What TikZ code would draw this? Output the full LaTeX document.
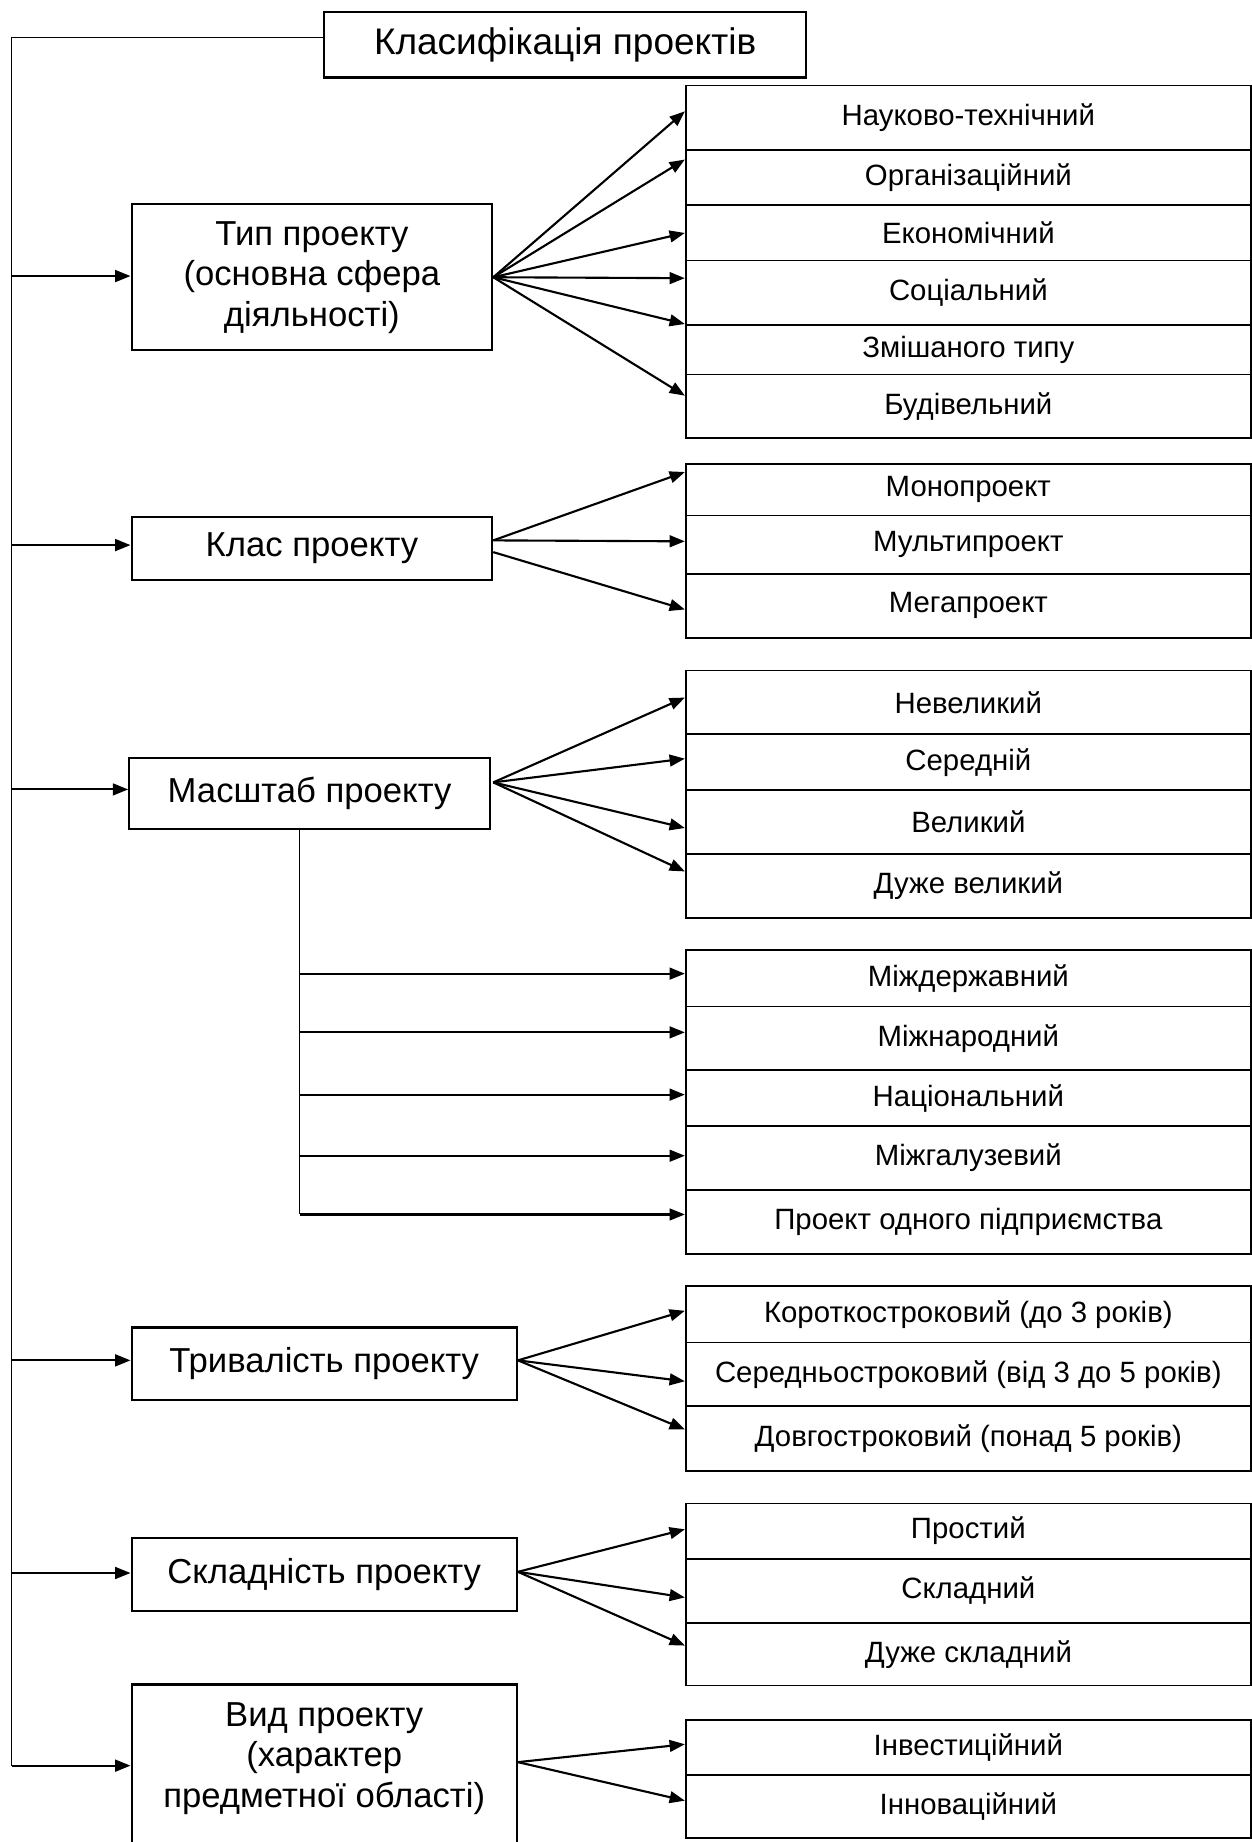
\documentclass[tikz,border=0pt]{standalone}
\usepackage{fontspec}
\setmainfont{Liberation Sans}
\usetikzlibrary{arrows.meta,calc}
\begin{document}
\begin{tikzpicture}[x=1pt,y=-1pt,
  bx/.style={draw, line width=1.8pt, inner sep=0pt, align=center, font=\fontsize{29.5}{34.5}\selectfont},
  rw/.style={draw, line width=1.6pt, inner sep=0pt, anchor=north west, minimum width=481pt, font=\fontsize{25}{30}\selectfont},
  arr/.style={line width=1.8pt, -{Triangle[length=13pt,width=10pt]}},
  thinl/.style={line width=1pt}]
\useasboundingbox (0,0) rectangle (1065,1568);
\fill[white] (0,0) rectangle (1065,1568);

% title
\node[draw, line width=1.8pt, inner sep=0pt, minimum width=410pt, minimum height=56pt,
  font=\fontsize{31.5}{36}\selectfont] (T) at (481,38) {Класифікація проектів};

% category boxes
\node[bx, minimum width=307pt, minimum height=124pt] (A) at (265.5,236) {Тип проекту\\(основна сфера\\діяльності)};
\node[bx, minimum width=307pt, minimum height=54pt] (B) at (265.5,467) {Клас проекту};
\node[bx, minimum width=307pt, minimum height=61pt] (C) at (263.5,675.5) {Масштаб проекту};
\node[bx, minimum width=328pt, minimum height=62pt] (E) at (276,1161) {Тривалість проекту};
\node[bx, minimum width=328pt, minimum height=62pt] (F) at (276,1340) {Складність проекту};
\node[bx, minimum width=328pt, minimum height=160pt, anchor=north] (G) at (276,1433) {};
\node[font=\fontsize{29.5}{34.5}\selectfont, align=center, inner sep=0pt] (Gt) at (276,1497) {Вид проекту\\(характер\\предметної області)};

% stack 1
\node[rw, minimum height=55pt] (a1) at (583,72) {Науково-технічний};
\node[rw, minimum height=47pt] (a2) at (583,127) {Організаційний};
\node[rw, minimum height=47pt] (a3) at (583,174) {Економічний};
\node[rw, minimum height=55pt] (a4) at (583,221) {Соціальний};
\node[rw, minimum height=42pt] (a5) at (583,276) {Змішаного типу};
\node[rw, minimum height=54pt] (a6) at (583,318) {Будівельний};
% stack 2
\node[rw, minimum height=44pt] (b1) at (583,394) {Монопроект};
\node[rw, minimum height=50pt] (b2) at (583,438) {Мультипроект};
\node[rw, minimum height=54pt] (b3) at (583,488) {Мегапроект};
% stack 3
\node[rw, minimum height=54pt] (c1) at (583,570) {Невеликий};
\node[rw, minimum height=48pt] (c2) at (583,624) {Середній};
\node[rw, minimum height=54pt] (c3) at (583,672) {Великий};
\node[rw, minimum height=55pt] (c4) at (583,726) {Дуже великий};
% stack 4
\node[rw, minimum height=48pt] (d1) at (583,808) {Міждержавний};
\node[rw, minimum height=54pt] (d2) at (583,856) {Міжнародний};
\node[rw, minimum height=48pt] (d3) at (583,910) {Національний};
\node[rw, minimum height=54pt] (d4) at (583,958) {Міжгалузевий};
\node[rw, minimum height=55pt] (d5) at (583,1012) {Проект одного підприємства};
% stack 5
\node[rw, minimum height=48pt] (e1) at (583,1094) {Короткостроковий (до 3 років)};
\node[rw, minimum height=54pt] (e2) at (583,1142) {Середньостроковий (від 3 до 5 років)};
\node[rw, minimum height=55pt] (e3) at (583,1196) {Довгостроковий (понад 5 років)};
% stack 6
\node[rw, minimum height=47pt] (f1) at (583,1279) {Простий};
\node[rw, minimum height=55pt] (f2) at (583,1326) {Складний};
\node[rw, minimum height=53pt] (f3) at (583,1381) {Дуже складний};
% stack 7
\node[rw, minimum height=47pt] (g1) at (583,1463) {Інвестиційний};
\node[rw, minimum height=54pt] (g2) at (583,1510) {Інноваційний};

% spine
\coordinate (sp) at (10,0);
\coordinate (ti) at ($(T.west)+(0,-6)$);
\coordinate (ai) at ($(A.west)+(0,-1)$);
\coordinate (bi) at ($(B.west)+(0,-3)$);
\coordinate (ci) at ($(C.west)+(0,-3.5)$);
\coordinate (ei) at ($(E.west)+(0,-3)$);
\coordinate (fi) at ($(F.west)+(0,-1)$);
\coordinate (gi) at ($(G.north west)+(0,70)$);
\draw[thinl] (ti) -- (sp |- ti) -- (sp |- gi);
\foreach \p in {ai,bi,ci,ei,fi,gi} \draw[arr] (sp |- \p) -- (\p);

% group 1 arrows
\draw[arr] (A.east) -- ($(a1.west)+(0,-5.5)$);
\draw[arr] (A.east) -- ($(a2.west)+(0,-15.5)$);
\draw[arr] (A.east) -- (a3.west);
\draw[arr] (A.east) -- ($(a4.west)+(0,-12.5)$);
\draw[arr] (A.east) -- ($(a5.west)+(0,-22)$);
\draw[arr] (A.east) -- ($(a6.west)+(0,-9)$);
% group 2
\draw[arr] ($(B.east)+(0,-7)$) -- ($(b1.west)+(0,-15)$);
\draw[arr] ($(B.east)+(0,-7)$) -- ($(b2.west)+(0,-3)$);
\draw[arr] ($(B.east)+(0,3)$) -- ($(b3.west)+(0,3)$);
% group 3
\coordinate (cs) at ($(C.east)+(2,-9.5)$);
\draw[arr] (cs) -- ($(c1.west)+(0,-4)$);
\draw[arr] (cs) -- ($(c2.west)+(0,-3)$);
\draw[arr] (cs) -- ($(c3.west)+(0,5)$);
\draw[arr] (cs) -- ($(c4.west)+(0,-12.5)$);
% group 4
\coordinate (cv) at ($(C.south)+(-8.5,0)$);
\coordinate (t1) at ($(d1.west)+(0,-4)$);
\coordinate (t2) at ($(d2.west)+(0,-5)$);
\coordinate (t3) at ($(d3.west)+(0,-3)$);
\coordinate (t4) at ($(d4.west)+(0,-2)$);
\coordinate (t5) at ($(d5.west)+(0,-6.5)$);
\draw[thinl] (cv) -- (cv |- t5);
\foreach \t in {t1,t2,t3,t4,t5} \draw[arr] (cv |- \t) -- (\t);
% group 5
\coordinate (es) at ($(E.east)+(0,-3)$);
\draw[arr] (es) -- ($(e1.west)+(0,-3)$);
\draw[arr] (es) -- ($(e2.west)+(0,6)$);
\draw[arr] (es) -- ($(e3.west)+(0,-7.5)$);
% group 6
\coordinate (fs) at ($(F.east)+(0,-2)$);
\draw[arr] (fs) -- ($(f1.west)+(0,-1.5)$);
\draw[arr] (fs) -- ($(f2.west)+(0,5.5)$);
\draw[arr] (fs) -- ($(f3.west)+(0,-7.5)$);
% group 7
\coordinate (gs) at ($(G.north east)+(0,67)$);
\draw[arr] (gs) -- ($(g1.west)+(0,-2.5)$);
\draw[arr] (gs) -- ($(g2.west)+(0,-5)$);
\end{tikzpicture}
\end{document}
